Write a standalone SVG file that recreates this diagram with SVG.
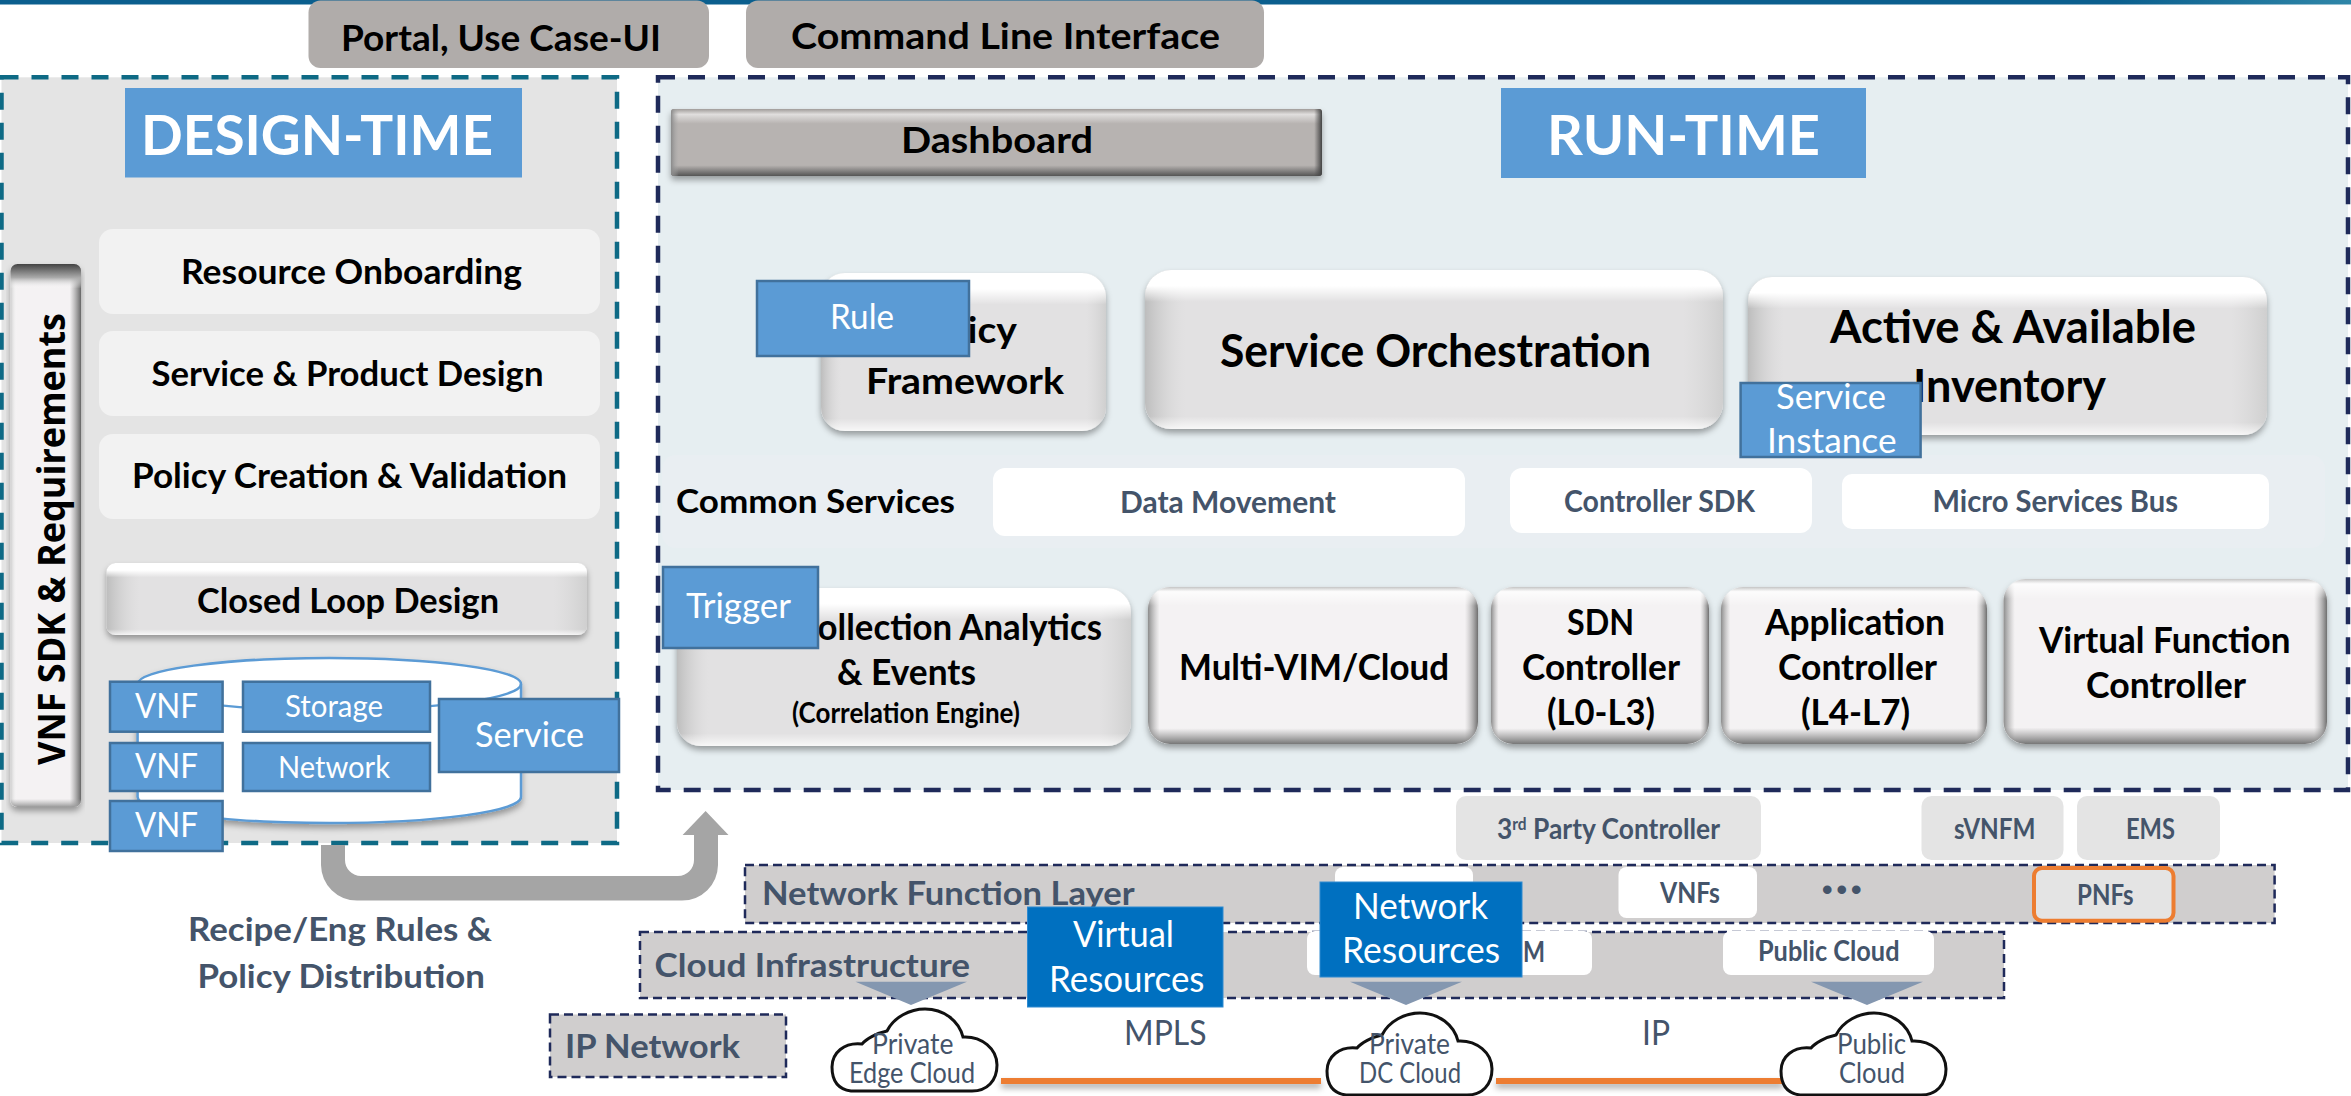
<svg xmlns="http://www.w3.org/2000/svg" width="2351" height="1096" viewBox="0 0 2351 1096">
<style>
text{font-family:Lato,"Liberation Sans",sans-serif}
.b{font-weight:700;fill:#000}
.w{font-weight:400;fill:#fff}
.wb{font-weight:700;fill:#fff}
.s{font-weight:700;fill:#44546a}
.r{font-weight:400;fill:#44546a}
.blue{fill:#5b9bd5;stroke:#41719c;stroke-width:2.5}
.dk{fill:#0070c0;stroke:#2e8ad0;stroke-width:1}
.head{fill:#5b9bd5}
.card{fill:#f2f2f2}
.wht{fill:#fff}
.lt{fill:#e4e4e4}
.band{fill:#d0cece;stroke:#1f2a5a;stroke-width:2.5;stroke-dasharray:9 5}
.tool{fill:#b0acaa}
.gray{fill:#e2e1e2;filter:url(#sh)}
.light{fill:#f4f2f3;filter:url(#sh)}
.tri{fill:#8497b0}
.cl{fill:#fff;stroke:#111;stroke-width:3}
.wire{fill:#ed7d31;filter:url(#wsh)}
</style>
<defs>
<filter id="sh" x="-5%" y="-10%" width="110%" height="125%"><feDropShadow dx="0" dy="4" stdDeviation="3" flood-color="#000" flood-opacity=".35"/></filter>
<filter id="wsh" x="-5%" y="-100%" width="110%" height="400%"><feDropShadow dx="0" dy="4" stdDeviation="3" flood-color="#000" flood-opacity=".35"/></filter>
<linearGradient id="gv" x1="0" y1="0" x2="0" y2="1"><stop offset="0" stop-color="#fff"/><stop offset=".1" stop-color="#fff"/><stop offset=".2" stop-color="#fff" stop-opacity="0"/><stop offset=".92" stop-color="#fff" stop-opacity="0"/><stop offset="1" stop-color="#fff" stop-opacity=".75"/></linearGradient>
<linearGradient id="gh"><stop offset="0" stop-color="#bdbdbd"/><stop offset=".07" stop-color="#d8d8d8" stop-opacity="0"/><stop offset=".93" stop-color="#d8d8d8" stop-opacity="0"/><stop offset="1" stop-color="#cfcfcf"/></linearGradient>
<linearGradient id="lv" x1="0" y1="0" x2="0" y2="1"><stop offset="0" stop-color="#c4c4c4"/><stop offset=".03" stop-color="#fff" stop-opacity=".8"/><stop offset=".12" stop-color="#fff" stop-opacity="0"/><stop offset=".9" stop-color="#888" stop-opacity="0"/><stop offset="1" stop-color="#777"/></linearGradient>
<linearGradient id="lh"><stop offset="0" stop-color="#8c8c8c"/><stop offset=".035" stop-color="#aaa" stop-opacity="0"/><stop offset=".96" stop-color="#aaa" stop-opacity="0"/><stop offset="1" stop-color="#6f6f6f"/></linearGradient>
<linearGradient id="dv" x1="0" y1="0" x2="0" y2="1"><stop offset="0" stop-color="#a09c9a"/><stop offset=".08" stop-color="#e0dedd"/><stop offset=".22" stop-color="#e0dedd" stop-opacity="0"/><stop offset=".84" stop-color="#555" stop-opacity="0"/><stop offset="1" stop-color="#555"/></linearGradient>
<linearGradient id="dh"><stop offset="0" stop-color="#8a8a8a"/><stop offset=".012" stop-color="#aaa" stop-opacity="0"/><stop offset=".988" stop-color="#444" stop-opacity="0"/><stop offset="1" stop-color="#444"/></linearGradient>
<linearGradient id="pv" x1="0" y1="0" x2="0" y2="1"><stop offset="0" stop-color="#444"/><stop offset=".025" stop-color="#aaa"/><stop offset=".045" stop-color="#fff" stop-opacity="0"/><stop offset=".985" stop-color="#aaa" stop-opacity="0"/><stop offset="1" stop-color="#999"/></linearGradient>
<linearGradient id="ph"><stop offset="0" stop-color="#ccc"/><stop offset=".1" stop-color="#fff" stop-opacity="0"/><stop offset=".84" stop-color="#888" stop-opacity="0"/><stop offset="1" stop-color="#666"/></linearGradient>
<linearGradient id="top"><stop offset="0" stop-color="#0b5f8e"/><stop offset=".9" stop-color="#0b5f8e"/><stop offset="1" stop-color="#2f86a8"/></linearGradient>
<path id="cloud" d="M19,82C4,80 0,70 0,58C0,44 12,33 30,35C34,30 45,24 55,22C62,8 78,0 93,0C112,0 127,12 131,28C150,27 165,40 165,56C165,72 155,82 140,82Z"/>
</defs>

<rect x="0" y="0" width="2351" height="1096" fill="#fff"/>
<rect x="0" y="0" width="2351" height="4.5" fill="url(#top)"/>

<g id="portal"><rect class="tool" x="308.500" y="0.500" width="400.500" height="67.500" rx="12"/><text class="b" x="341" y="51" font-size="37" textLength="320" lengthAdjust="spacingAndGlyphs">Portal, Use Case-UI</text></g>
<g id="cli"><rect class="tool" x="746" y="0.500" width="518" height="67.500" rx="12"/><text class="b" x="791" y="49" font-size="37" textLength="429" lengthAdjust="spacingAndGlyphs">Command Line Interface</text></g>

<g id="design-time">
<rect x="1.500" y="77.300" width="615.500" height="765.700" fill="#e4e4e4" stroke="#0e6a85" stroke-width="4.500" stroke-dasharray="17 13"/>
<rect class="head" x="125" y="88" width="397" height="89.500"/>
<text class="wb" x="141" y="155" font-size="56" textLength="352" lengthAdjust="spacingAndGlyphs">DESIGN-TIME</text>
</g>
<g id="resource-onboarding"><rect class="card" x="99" y="229" width="501" height="85" rx="14"/><text class="b" x="181" y="284" font-size="34" textLength="341" lengthAdjust="spacingAndGlyphs">Resource Onboarding</text></g>
<g id="service-product"><rect class="card" x="99" y="331" width="501" height="85" rx="14"/><text class="b" x="151.500" y="386" font-size="34" textLength="392" lengthAdjust="spacingAndGlyphs">Service &amp; Product Design</text></g>
<g id="policy-creation"><rect class="card" x="99" y="434" width="501" height="85" rx="14"/><text class="b" x="132" y="487.500" font-size="34" textLength="435" lengthAdjust="spacingAndGlyphs">Policy Creation &amp; Validation</text></g>
<g id="vnf-sdk">
<rect class="light" x="10.500" y="264" width="70.500" height="543" rx="7"/>
<rect x="10.500" y="264" width="70.500" height="543" rx="7" fill="url(#ph)"/>
<rect x="10.500" y="264" width="70.500" height="543" rx="7" fill="url(#pv)"/>
<text transform="translate(64.500,765) rotate(-90)" x="0" y="0" font-size="38" textLength="452" lengthAdjust="spacingAndGlyphs" style="font-family:'Open Sans','Liberation Sans',sans-serif;font-weight:700;fill:#000">VNF SDK &amp; Requirements</text>
</g>
<g id="closed-loop">
<rect class="gray" x="106.500" y="563" width="480.500" height="72" rx="9"/>
<rect x="106.500" y="563" width="480.500" height="72" rx="9" fill="url(#gh)"/>
<rect x="106.500" y="563" width="480.500" height="72" rx="9" fill="url(#gv)"/>
<text class="b" x="197" y="612.700" font-size="34" textLength="302" lengthAdjust="spacingAndGlyphs">Closed Loop Design</text>
</g>
<g id="catalog">
<path d="M137.600,684V797A191.700,26 0 0 0 521,797V684A191.700,26 0 0 0 137.600,684Z" fill="#fff" stroke="#5b9bd5" stroke-width="2.500" filter="url(#sh)"/>
<path d="M137.600,684A191.700,26 0 0 0 521,684" fill="none" stroke="#5b9bd5" stroke-width="2.500"/>
</g>
<g id="vnf-1"><rect class="blue" x="110" y="681.700" width="112.600" height="50"/><text class="w" x="135" y="717.700" font-size="34" textLength="63" lengthAdjust="spacingAndGlyphs">VNF</text></g>
<g id="storage"><rect class="blue" x="243" y="681.700" width="187" height="50"/><text class="w" x="285" y="716.700" font-size="30" textLength="98" lengthAdjust="spacingAndGlyphs">Storage</text></g>
<g id="service"><rect class="blue" x="439" y="699" width="180" height="73"/><text class="w" x="475" y="747" font-size="34" textLength="109" lengthAdjust="spacingAndGlyphs">Service</text></g>
<g id="vnf-2"><rect class="blue" x="110" y="743" width="112.600" height="48"/><text class="w" x="135" y="778" font-size="34" textLength="63" lengthAdjust="spacingAndGlyphs">VNF</text></g>
<g id="network"><rect class="blue" x="243" y="743" width="187" height="48"/><text class="w" x="278" y="778" font-size="30" textLength="112" lengthAdjust="spacingAndGlyphs">Network</text></g>
<g id="vnf-3"><rect class="blue" x="110" y="801" width="112.600" height="50"/><text class="w" x="135" y="837" font-size="34" textLength="63" lengthAdjust="spacingAndGlyphs">VNF</text></g>

<g id="run-time">
<rect x="658" y="77.300" width="1690" height="712.700" fill="#e6eef1" stroke="#1f2a5a" stroke-width="4.500" stroke-dasharray="17 13"/>
<rect class="head" x="1501" y="88" width="365" height="90"/>
<text class="wb" x="1547" y="155" font-size="56" textLength="273" lengthAdjust="spacingAndGlyphs">RUN-TIME</text>
<rect x="662" y="455" width="1663" height="93" rx="14" fill="#e9eef2"/>
</g>
<g id="dashboard">
<rect x="671" y="109" width="651" height="67" rx="3" fill="#b7b3b1" filter="url(#sh)"/>
<rect x="671" y="109" width="651" height="67" rx="3" fill="url(#dv)"/>
<rect x="671" y="109" width="651" height="67" rx="3" fill="url(#dh)"/>
<text class="b" x="901" y="152.700" font-size="37" textLength="192" lengthAdjust="spacingAndGlyphs">Dashboard</text>
</g>
<g id="policy-framework">
<rect class="gray" x="821" y="273" width="285" height="158" rx="24"/>
<rect x="821" y="273" width="285" height="158" rx="24" fill="url(#gh)"/>
<rect x="821" y="273" width="285" height="158" rx="24" fill="url(#gv)"/>
<text class="b" x="912" y="343" font-size="37" textLength="105" lengthAdjust="spacingAndGlyphs">Policy</text>
<text class="b" x="866" y="394" font-size="37" textLength="198" lengthAdjust="spacingAndGlyphs">Framework</text>
</g>
<g id="rule"><rect class="blue" x="757" y="281" width="212" height="75"/><text class="w" x="830" y="329" font-size="34" textLength="64" lengthAdjust="spacingAndGlyphs">Rule</text></g>
<g id="service-orchestration">
<rect class="gray" x="1145" y="270" width="578" height="159" rx="26"/>
<rect x="1145" y="270" width="578" height="159" rx="26" fill="url(#gh)"/>
<rect x="1145" y="270" width="578" height="159" rx="26" fill="url(#gv)"/>
<text class="b" x="1220" y="367" font-size="45" textLength="431" lengthAdjust="spacingAndGlyphs">Service Orchestration</text>
</g>
<g id="inventory">
<rect class="gray" x="1748" y="277" width="519" height="158" rx="24"/>
<rect x="1748" y="277" width="519" height="158" rx="24" fill="url(#gh)"/>
<rect x="1748" y="277" width="519" height="158" rx="24" fill="url(#gv)"/>
<text class="b" x="1830" y="343" font-size="45" textLength="366" lengthAdjust="spacingAndGlyphs">Active &amp; Available</text>
<text class="b" x="1913" y="402" font-size="45" textLength="193" lengthAdjust="spacingAndGlyphs">Inventory</text>
</g>
<g id="service-instance"><rect class="blue" x="1740.600" y="383" width="180" height="74"/>
<text class="w" x="1776" y="409" font-size="34" textLength="110" lengthAdjust="spacingAndGlyphs">Service</text>
<text class="w" x="1767" y="453" font-size="34" textLength="129.500" lengthAdjust="spacingAndGlyphs">Instance</text></g>

<g id="common-services"><text class="b" x="676" y="513" font-size="33" textLength="279" lengthAdjust="spacingAndGlyphs">Common Services</text></g>
<g id="data-movement"><rect class="wht" x="993" y="468" width="472" height="68" rx="12"/><text class="s" x="1120" y="513" font-size="30" textLength="216" lengthAdjust="spacingAndGlyphs">Data Movement</text></g>
<g id="controller-sdk"><rect class="wht" x="1510" y="468" width="302" height="65" rx="12"/><text class="s" x="1564" y="512" font-size="30" textLength="191" lengthAdjust="spacingAndGlyphs">Controller SDK</text></g>
<g id="msb"><rect class="wht" x="1842" y="474" width="427" height="55" rx="10"/><text class="s" x="1932.500" y="512" font-size="30" textLength="245.500" lengthAdjust="spacingAndGlyphs">Micro Services Bus</text></g>

<g id="collection">
<rect class="gray" x="677" y="588" width="454" height="158" rx="24"/>
<rect x="677" y="588" width="454" height="158" rx="24" fill="url(#gh)"/>
<rect x="677" y="588" width="454" height="158" rx="24" fill="url(#gv)"/>
<text class="b" x="795" y="640" font-size="37" textLength="307" lengthAdjust="spacingAndGlyphs">Collection Analytics</text>
<text class="b" x="837" y="685" font-size="37" textLength="139" lengthAdjust="spacingAndGlyphs">&amp; Events</text>
<text class="b" x="792" y="723" font-size="28" textLength="228" lengthAdjust="spacingAndGlyphs">(Correlation Engine)</text>
</g>
<g id="trigger"><rect class="blue" x="663" y="567" width="155" height="81"/><text class="w" x="686" y="618" font-size="34" textLength="105" lengthAdjust="spacingAndGlyphs">Trigger</text></g>
<g id="multi-vim">
<rect class="light" x="1148" y="587" width="330" height="157" rx="22"/>
<rect x="1148" y="587" width="330" height="157" rx="22" fill="url(#lh)"/>
<rect x="1148" y="587" width="330" height="157" rx="22" fill="url(#lv)"/>
<text class="b" x="1179" y="680" font-size="37" textLength="270" lengthAdjust="spacingAndGlyphs">Multi-VIM/Cloud</text>
</g>
<g id="sdn">
<rect class="light" x="1491" y="587" width="218" height="157" rx="22"/>
<rect x="1491" y="587" width="218" height="157" rx="22" fill="url(#lh)"/>
<rect x="1491" y="587" width="218" height="157" rx="22" fill="url(#lv)"/>
<text class="b" x="1567" y="635" font-size="37" textLength="67" lengthAdjust="spacingAndGlyphs">SDN</text>
<text class="b" x="1522" y="680" font-size="37" textLength="158" lengthAdjust="spacingAndGlyphs">Controller</text>
<text class="b" x="1547" y="725" font-size="37" textLength="108" lengthAdjust="spacingAndGlyphs">(L0-L3)</text>
</g>
<g id="appc">
<rect class="light" x="1721" y="587" width="266" height="157" rx="22"/>
<rect x="1721" y="587" width="266" height="157" rx="22" fill="url(#lh)"/>
<rect x="1721" y="587" width="266" height="157" rx="22" fill="url(#lv)"/>
<text class="b" x="1765" y="635" font-size="37" textLength="180" lengthAdjust="spacingAndGlyphs">Application</text>
<text class="b" x="1778" y="680" font-size="37" textLength="159" lengthAdjust="spacingAndGlyphs">Controller</text>
<text class="b" x="1801" y="725" font-size="37" textLength="109" lengthAdjust="spacingAndGlyphs">(L4-L7)</text>
</g>
<g id="vfc">
<rect class="light" x="2003.500" y="579" width="323.500" height="165" rx="22"/>
<rect x="2003.500" y="579" width="323.500" height="165" rx="22" fill="url(#lh)"/>
<rect x="2003.500" y="579" width="323.500" height="165" rx="22" fill="url(#lv)"/>
<text class="b" x="2039" y="653" font-size="37" textLength="251.500" lengthAdjust="spacingAndGlyphs">Virtual Function</text>
<text class="b" x="2086" y="698" font-size="37" textLength="160" lengthAdjust="spacingAndGlyphs">Controller</text>
</g>

<g id="third-party"><rect class="lt" x="1456" y="796" width="305" height="64" rx="10"/><text class="s" x="1497" y="839" font-size="29" textLength="223" lengthAdjust="spacingAndGlyphs">3<tspan font-size="17" dy="-9">rd</tspan><tspan dy="9"> Party Controller</tspan></text></g>
<g id="svnfm"><rect class="lt" x="1921.500" y="796" width="142" height="64" rx="10"/><text class="s" x="1954" y="839" font-size="29" textLength="81.500" lengthAdjust="spacingAndGlyphs">sVNFM</text></g>
<g id="ems"><rect class="lt" x="2077" y="796" width="143" height="64" rx="10"/><text class="s" x="2126" y="839" font-size="29" textLength="49" lengthAdjust="spacingAndGlyphs">EMS</text></g>

<g id="network-function-layer">
<rect class="band" x="745" y="865" width="1529.600" height="58"/>
<rect class="wht" x="1335" y="867" width="138" height="56" rx="8"/>
<text class="s" x="762" y="905" font-size="33" textLength="372.600" lengthAdjust="spacingAndGlyphs">Network Function Layer</text>
</g>
<g id="vnfs"><rect class="wht" x="1618.500" y="867" width="138.500" height="51" rx="8"/><text class="s" x="1660" y="903" font-size="29" textLength="60" lengthAdjust="spacingAndGlyphs">VNFs</text></g>
<text class="s" x="1822" y="900" font-size="30" letter-spacing="4" style="font-family:'Liberation Sans',sans-serif">•••</text>
<g id="pnfs"><rect x="2034" y="868" width="139.500" height="52.700" rx="8" fill="#e4e4e4" stroke="#ed7d31" stroke-width="4"/><text class="s" x="2077" y="905" font-size="29" textLength="56.500" lengthAdjust="spacingAndGlyphs">PNFs</text></g>

<g id="cloud-infrastructure">
<rect class="band" x="640" y="932" width="1364" height="66"/>
<text class="s" x="654.600" y="977" font-size="33" textLength="315.400" lengthAdjust="spacingAndGlyphs">Cloud Infrastructure</text>
</g>
<g id="vim-box"><rect class="wht" x="1307" y="931" width="285" height="44" rx="8"/><text class="s" x="1523" y="961.700" font-size="29" textLength="22" lengthAdjust="spacingAndGlyphs">M</text></g>
<g id="public-cloud-box"><rect class="wht" x="1723" y="931" width="211" height="44" rx="8"/><text class="s" x="1758" y="960.700" font-size="29" textLength="141.500" lengthAdjust="spacingAndGlyphs">Public Cloud</text></g>

<g id="ip-network"><rect class="band" x="550" y="1014.500" width="236" height="62.500"/><text class="s" x="565" y="1058" font-size="33" textLength="175" lengthAdjust="spacingAndGlyphs">IP Network</text></g>

<g id="connectors">
<path d="M321,845V865A36,36 0 0 0 357,900.600H682A36,36 0 0 0 718,865V835H728.500L705.600,811L682.600,835H694V860A16,16 0 0 1 678,876H361A16,16 0 0 1 345,860V845Z" fill="#a5a5a5"/>
<polygon class="tri" points="855.500,981.700 967,981.700 911,1005"/>
<polygon class="tri" points="1350,981.700 1462,981.700 1406,1005"/>
<polygon class="tri" points="1811,981.700 1923,981.700 1867,1005"/>
<rect class="wire" x="1001" y="1078" width="320" height="6"/>
<rect class="wire" x="1496" y="1078" width="287" height="6"/>
</g>

<g id="recipe-label">
<text class="s" x="188" y="940.700" font-size="33" textLength="304" lengthAdjust="spacingAndGlyphs">Recipe/Eng Rules &amp;</text>
<text class="s" x="197.400" y="987.500" font-size="33" textLength="287.600" lengthAdjust="spacingAndGlyphs">Policy Distribution</text>
</g>

<g id="virtual-resources"><rect class="dk" x="1027.500" y="907" width="195.500" height="100"/>
<text class="w" x="1073" y="947" font-size="37" textLength="101" lengthAdjust="spacingAndGlyphs">Virtual</text>
<text class="w" x="1049" y="992" font-size="37" textLength="155.500" lengthAdjust="spacingAndGlyphs">Resources</text></g>
<g id="network-resources"><rect class="dk" x="1320" y="882" width="202" height="95"/>
<text class="w" x="1353" y="919" font-size="37" textLength="135" lengthAdjust="spacingAndGlyphs">Network</text>
<text class="w" x="1342" y="963" font-size="37" textLength="158" lengthAdjust="spacingAndGlyphs">Resources</text></g>

<text class="r" x="1124" y="1045" font-size="34" textLength="82.500" lengthAdjust="spacingAndGlyphs">MPLS</text>
<text class="r" x="1642" y="1045" font-size="34" textLength="28" lengthAdjust="spacingAndGlyphs">IP</text>

<g id="private-edge-cloud"><use href="#cloud" class="cl" x="832" y="1009"/>
<text class="r" x="872" y="1054" font-size="29" textLength="81.500" lengthAdjust="spacingAndGlyphs">Private</text>
<text class="r" x="849" y="1083" font-size="29" textLength="126" lengthAdjust="spacingAndGlyphs">Edge Cloud</text></g>
<g id="private-dc-cloud"><use href="#cloud" class="cl" x="1327" y="1013"/>
<text class="r" x="1369" y="1054" font-size="29" textLength="81" lengthAdjust="spacingAndGlyphs">Private</text>
<text class="r" x="1359" y="1083" font-size="29" textLength="102" lengthAdjust="spacingAndGlyphs">DC Cloud</text></g>
<g id="public-cloud"><use href="#cloud" class="cl" x="1781" y="1013"/>
<text class="r" x="1837" y="1054" font-size="29" textLength="69" lengthAdjust="spacingAndGlyphs">Public</text>
<text class="r" x="1839" y="1083" font-size="29" textLength="66" lengthAdjust="spacingAndGlyphs">Cloud</text></g>
</svg>
